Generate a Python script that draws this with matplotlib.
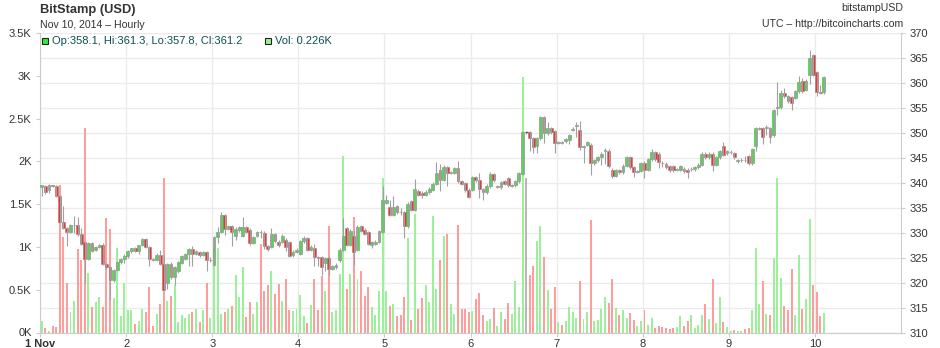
import matplotlib
matplotlib.use("Agg")
import matplotlib.pyplot as plt
from matplotlib.patches import Rectangle
import numpy as np

plt.rcParams['font.family'] = ['Liberation Sans', 'DejaVu Sans']

# hourly candles, 1 Nov 00:00 UTC onwards (24 per line = one day)
opens = [
    339.1, 339.4, 338.6, 339.5, 339.4, 337.4, 332.1, 330.9, 330.1, 331.5, 331.6, 329.8,
    328.1, 324.7, 328.0, 326.6, 327.1, 327.6, 323.7, 323.1, 320.5, 322.5, 324.1, 324.8,
    325.4, 326.4, 326.9, 326.4, 327.5, 328.7, 327.1, 324.7, 324.6, 325.6, 323.8, 320.0,
    323.8, 321.1, 322.3, 323.9, 324.7, 325.7, 326.7, 325.7, 326.2, 325.5, 326.2, 324.5,
    323.6, 329.1, 330.2, 333.6, 330.7, 331.3, 329.4, 330.6, 329.4, 331.1, 330.6, 327.9,
    329.4, 330.2, 330.0, 327.3, 327.1, 329.8, 328.2, 328.1, 328.6, 328.2, 325.5, 326.2,
    325.8, 328.3, 329.0, 326.6, 326.9, 325.1, 325.1, 323.9, 325.0, 322.8, 323.1, 324.5,
    326.6, 330.9, 327.6, 329.4, 326.5, 331.3, 330.6, 330.1, 327.6, 327.8, 328.1, 330.2,
    336.0, 335.1, 333.6, 335.3, 334.2, 334.1, 331.3, 336.3, 334.6, 338.4, 338.0, 337.6,
    338.1, 338.6, 339.8, 342.5, 340.6, 343.1, 342.0, 342.0, 342.9, 340.3, 339.9, 338.6,
    338.6, 341.1, 340.6, 338.7, 338.1, 339.3, 341.8, 339.2, 339.1, 340.3, 340.9, 339.4,
    339.5, 340.3, 341.8, 350.1, 350.1, 348.9, 347.3, 348.9, 353.1, 349.9, 350.9, 350.3,
    348.0, 348.1, 348.3, 348.6, 350.6, 351.3, 350.6, 347.2, 347.6, 347.6, 343.9, 344.5,
    345.1, 346.4, 346.4, 342.6, 341.4, 342.5, 342.1, 343.4, 345.1, 343.1, 342.2, 342.4,
    344.0, 342.6, 344.7, 346.1, 345.8, 344.0, 343.8, 343.3, 343.3, 342.6, 342.6, 342.8,
    342.6, 342.7, 342.7, 343.1, 343.6, 345.8, 345.1, 345.8, 343.6, 345.1, 347.3, 345.9,
    346.1, 345.9, 344.3, 344.5, 344.6, 345.3, 343.9, 347.3, 350.8, 350.9, 350.9, 350.9,
    349.5, 355.0, 355.1, 357.9, 357.3, 357.1, 357.0, 358.3, 360.3, 358.6, 361.6, 365.5,
    362.1, 358.1, 358.1,
]
highs = [
    339.6, 339.6, 339.7, 339.6, 339.6, 337.5, 335.4, 331.2, 331.7, 333.3, 333.2, 331.0,
    328.3, 328.2, 328.2, 327.3, 327.8, 328.0, 324.0, 323.4, 322.8, 324.3, 325.0, 325.8,
    326.6, 327.0, 327.1, 327.6, 328.9, 328.9, 327.3, 325.0, 325.9, 326.5, 325.5, 324.0,
    324.2, 323.4, 324.3, 325.5, 326.0, 327.0, 327.3, 326.5, 326.4, 326.4, 326.4, 325.2,
    329.3, 331.1, 334.2, 333.8, 331.5, 331.6, 331.2, 331.3, 333.1, 331.4, 330.9, 329.4,
    330.4, 330.6, 330.3, 327.6, 330.9, 330.0, 328.5, 329.7, 328.9, 328.4, 326.5, 326.9,
    328.6, 329.3, 329.2, 327.5, 327.8, 325.4, 325.4, 325.2, 325.4, 323.6, 323.9, 326.9,
    332.9, 331.2, 330.8, 330.5, 331.5, 331.6, 330.9, 330.4, 328.4, 328.5, 330.6, 339.3,
    337.6, 336.6, 337.3, 335.6, 335.0, 334.4, 336.1, 336.6, 340.7, 338.8, 338.3, 338.5,
    339.1, 340.2, 344.1, 343.8, 343.5, 343.4, 342.4, 343.2, 344.3, 340.6, 340.2, 338.9,
    341.4, 341.4, 341.9, 339.0, 339.7, 342.2, 342.0, 339.6, 340.4, 340.6, 341.2, 339.8,
    340.6, 342.2, 350.3, 350.4, 350.3, 349.2, 349.2, 353.3, 353.3, 352.1, 351.2, 350.6,
    348.4, 348.4, 349.0, 349.8, 351.1, 352.2, 352.3, 347.6, 348.4, 347.9, 344.8, 345.4,
    346.1, 346.9, 346.7, 342.9, 342.8, 342.8, 343.7, 345.4, 345.4, 343.4, 342.6, 344.2,
    344.3, 345.0, 346.7, 346.4, 346.1, 344.3, 344.1, 343.6, 343.6, 343.0, 343.6, 343.1,
    342.9, 343.1, 343.4, 343.9, 346.1, 346.1, 346.1, 346.1, 345.4, 346.6, 348.2, 346.6,
    346.5, 346.2, 344.8, 344.9, 345.4, 345.6, 347.0, 351.2, 351.2, 351.2, 351.6, 351.2,
    354.8, 360.1, 358.5, 358.9, 357.6, 357.4, 358.6, 361.3, 361.0, 360.8, 366.6, 365.7,
    362.4, 359.6, 361.3,
]
lows = [
    337.3, 337.7, 338.0, 339.2, 337.2, 332.0, 330.8, 327.3, 330.0, 329.9, 329.3, 327.5,
    319.9, 324.5, 326.1, 326.4, 326.9, 323.5, 322.8, 316.6, 320.1, 322.3, 323.8, 324.0,
    324.9, 326.0, 326.2, 325.8, 327.3, 326.9, 323.3, 324.3, 324.4, 323.6, 318.5, 318.8,
    320.8, 319.6, 322.0, 323.7, 324.5, 323.3, 323.4, 325.5, 325.2, 325.3, 322.3, 324.1,
    323.4, 328.0, 330.0, 329.5, 330.5, 327.4, 328.6, 330.2, 329.2, 329.9, 327.6, 327.7,
    329.1, 329.0, 326.8, 326.3, 326.9, 328.0, 327.2, 327.9, 326.4, 325.1, 325.2, 326.0,
    325.5, 328.0, 326.3, 326.3, 323.3, 323.3, 321.6, 322.4, 321.5, 322.5, 322.8, 324.2,
    326.3, 327.3, 327.4, 323.6, 326.3, 330.1, 329.5, 327.5, 327.0, 327.5, 327.9, 330.0,
    335.7, 333.3, 333.4, 333.8, 333.6, 329.0, 331.0, 334.3, 334.4, 337.3, 337.0, 337.3,
    337.8, 338.3, 339.6, 338.3, 340.3, 339.3, 341.7, 341.8, 339.9, 339.5, 338.2, 336.9,
    338.3, 340.1, 336.9, 336.5, 337.8, 339.0, 340.2, 338.9, 338.8, 339.5, 339.2, 339.1,
    339.2, 340.0, 341.5, 349.8, 346.3, 345.9, 346.0, 348.6, 348.0, 349.6, 349.8, 345.9,
    347.7, 347.7, 348.0, 347.8, 350.3, 349.2, 346.6, 344.0, 347.3, 341.6, 343.6, 344.2,
    343.6, 343.8, 343.0, 341.0, 341.1, 341.8, 341.8, 343.1, 342.8, 341.1, 341.9, 342.1,
    341.0, 342.3, 344.4, 344.4, 343.0, 343.2, 342.8, 342.2, 342.2, 342.3, 342.3, 342.0,
    341.0, 342.4, 342.4, 342.8, 343.3, 344.8, 344.8, 342.4, 343.3, 344.8, 345.3, 345.6,
    345.8, 344.8, 344.0, 344.2, 344.2, 343.6, 343.6, 346.3, 350.5, 347.7, 349.6, 348.0,
    349.2, 353.6, 354.8, 357.0, 356.0, 354.6, 356.7, 358.0, 358.0, 358.3, 359.8, 361.3,
    357.4, 357.8, 357.8,
]
closes = [
    339.5, 338.2, 339.5, 339.4, 337.4, 332.1, 330.9, 330.1, 331.5, 331.6, 329.8, 327.7,
    324.7, 328.0, 326.3, 327.1, 327.6, 323.7, 323.1, 320.5, 322.5, 324.1, 324.8, 325.4,
    326.4, 326.9, 326.4, 327.5, 328.7, 327.1, 324.7, 324.6, 325.6, 323.8, 318.6, 323.8,
    321.1, 323.1, 324.1, 325.3, 325.8, 326.7, 325.7, 326.3, 325.5, 326.2, 324.5, 324.6,
    329.1, 330.2, 333.6, 330.8, 331.3, 330.1, 330.7, 331.1, 331.1, 330.2, 327.9, 329.1,
    330.1, 330.1, 327.3, 326.7, 329.8, 328.3, 327.5, 329.4, 327.1, 325.4, 326.2, 326.6,
    328.3, 329.0, 326.6, 327.2, 325.1, 325.0, 323.1, 324.9, 322.8, 323.3, 323.6, 326.6,
    329.4, 327.6, 330.4, 326.1, 331.1, 330.4, 329.8, 327.8, 328.1, 328.2, 330.3, 336.5,
    336.6, 333.6, 335.1, 334.1, 334.1, 331.3, 335.8, 334.6, 338.7, 337.6, 337.6, 338.1,
    338.8, 339.8, 341.9, 340.6, 343.1, 341.9, 342.1, 342.9, 340.3, 339.8, 338.5, 337.2,
    341.1, 340.5, 338.7, 338.1, 339.4, 341.8, 340.5, 339.3, 340.1, 339.8, 339.5, 339.5,
    340.3, 341.9, 350.1, 350.1, 348.9, 347.2, 348.9, 353.1, 349.9, 350.9, 350.1, 347.9,
    348.1, 348.0, 348.7, 349.5, 350.8, 351.5, 347.1, 347.3, 348.1, 343.9, 344.5, 345.1,
    345.8, 346.5, 343.3, 341.3, 342.5, 342.1, 343.4, 345.1, 343.1, 342.1, 342.3, 343.9,
    342.6, 344.7, 346.1, 344.7, 344.1, 343.9, 343.1, 342.5, 342.5, 342.7, 343.3, 342.3,
    342.1, 342.8, 343.1, 343.6, 345.8, 345.1, 345.8, 343.6, 345.1, 346.3, 345.6, 346.3,
    346.2, 345.1, 344.5, 344.6, 344.5, 343.9, 346.7, 350.9, 350.9, 349.1, 351.2, 349.1,
    354.5, 355.1, 357.9, 357.3, 356.3, 355.9, 358.3, 360.1, 358.3, 360.3, 364.9, 361.6,
    358.1, 358.0, 361.2,
]
# volume in thousands of BTC
volumes = [
    0.13, 0.05, 0.02, 0.08, 0.06, 1.72, 1.12, 0.58, 0.24, 0.37, 0.97, 0.85,
    2.39, 0.70, 0.30, 0.36, 0.41, 0.30, 1.34, 1.21, 0.40, 0.99, 0.19, 0.58,
    0.26, 0.26, 0.10, 0.13, 0.28, 0.24, 0.53, 0.08, 0.22, 0.33, 1.81, 0.37,
    0.43, 0.55, 0.12, 0.21, 0.17, 0.22, 0.24, 0.27, 0.12, 0.26, 0.58, 0.17,
    0.98, 0.99, 0.22, 0.24, 0.27, 0.31, 0.67, 0.41, 0.76, 0.18, 0.36, 0.22,
    0.36, 1.04, 0.48, 0.55, 0.72, 0.45, 0.57, 0.37, 0.63, 0.26, 0.25, 0.27,
    0.44, 0.19, 0.11, 0.32, 0.62, 0.26, 0.66, 0.48, 1.24, 0.24, 0.26, 0.68,
    2.06, 0.51, 0.68, 1.35, 0.62, 0.72, 0.43, 0.53, 0.30, 0.21, 0.49, 1.81,
    0.48, 0.31, 0.33, 0.19, 0.20, 0.42, 1.10, 0.15, 1.38, 0.27, 0.40, 0.56,
    0.36, 1.36, 0.51, 0.85, 1.13, 1.15, 0.33, 0.22, 1.26, 0.27, 0.28, 0.24,
    0.25, 0.39, 0.46, 0.20, 0.13, 0.16, 0.29, 0.08, 0.24, 0.16, 0.35, 0.22,
    0.60, 0.30, 2.99, 1.81, 0.67, 0.78, 1.07, 1.24, 0.88, 0.50, 0.27, 0.53,
    0.12, 0.09, 0.13, 0.30, 0.24, 0.17, 0.60, 0.16, 0.24, 1.31, 0.13, 0.15,
    0.28, 0.41, 0.34, 0.62, 0.29, 0.21, 0.26, 0.17, 0.23, 0.15, 0.08, 0.13,
    0.26, 0.09, 0.17, 0.05, 0.08, 0.07, 0.05, 0.04, 0.05, 0.07, 0.19, 0.08,
    0.14, 0.21, 0.05, 0.09, 0.20, 0.33, 0.16, 0.63, 0.11, 0.41, 0.12, 0.07,
    0.02, 0.03, 0.02, 0.02, 0.04, 0.05, 0.26, 0.99, 0.33, 0.60, 0.22, 0.20,
    0.87, 1.81, 0.64, 0.31, 0.26, 0.74, 0.21, 0.90, 0.27, 0.39, 1.33, 0.56,
    0.47, 0.19, 0.226,
]
day_labels = ["1 Nov", "2", "3", "4", "5", "6", "7", "8", "9", "10"]
price_ticks = [310, 315, 320, 325, 330, 335, 340, 345, 350, 355, 360, 365, 370]
vol_ticks = [0, 0.5, 1, 1.5, 2, 2.5, 3, 3.5]
vol_labels = ["0K", "0.5K", "1K", "1.5K", "2K", "2.5K", "3K", "3.5K"]

o = np.array(opens)
h = np.array(highs)
l = np.array(lows)
c = np.array(closes)
v = np.array(volumes)
x = np.arange(len(o))
up = c > o
down = c < o
flat = c == o

TXT = '#333333'
GRID = '#ebebeb'
AXC = '#cccccc'

fig = plt.figure(figsize=(9.4, 3.48), dpi=100)
ax = fig.add_axes([40 / 940, 15.5 / 348, 861 / 940, 299.5 / 348])
axv = ax.twinx()
axc = ax.twinx()

# price scale (right) carries the grid
ax.set_xlim(-0.5, 239.5)
ax.set_ylim(310, 370)
ax.yaxis.tick_right()
ax.set_yticks(price_ticks)
ax.set_xticks([24 * k - 0.5 for k in range(len(day_labels))])
ax.set_xticklabels(day_labels)
ax.get_xticklabels()[0].set_fontweight('bold')
ax.grid(True, color=GRID, lw=1)
ax.set_axisbelow(True)
ax.tick_params(axis='both', colors=AXC, labelcolor=TXT, labelsize=8, length=3)
ax.tick_params(axis='x', pad=1.5)
ax.tick_params(axis='y', pad=3)
for side in ['left', 'right', 'bottom']:
    ax.spines[side].set_color(AXC)
ax.spines['top'].set_visible(False)

# volume (left)
axv.set_ylim(0, 3.5)
axv.yaxis.tick_left()
axv.set_yticks(vol_ticks)
axv.set_yticklabels(vol_labels)
axv.tick_params(axis='y', colors=AXC, labelcolor=TXT, labelsize=8, length=3, pad=3)
for s in axv.spines.values():
    s.set_visible(False)
axv.bar(x[up], v[up], width=0.55, color='#9cf09a', lw=0)
axv.bar(x[down], v[down], width=0.55, color='#ff9c9c', lw=0)
axv.bar(x[flat], v[flat], width=0.55, color='#b8b8b8', lw=0)

# candles
axc.set_ylim(310, 370)
axc.set_yticks([])
for s in axc.spines.values():
    s.set_visible(False)
axc.vlines(x, l, h, color='#a0a0a0', lw=0.8)
axc.bar(x[up], (c - o)[up], bottom=o[up], width=0.8,
        color='#2ef02e', edgecolor='#8c8c8c', lw=0.45)
axc.bar(x[down], (o - c)[down], bottom=c[down], width=0.8,
        color='#ff2a2a', edgecolor='#8c8c8c', lw=0.45)
axc.hlines(c[flat], x[flat] - 0.4, x[flat] + 0.4, color='#555555', lw=0.9)

# header texts
fig.text(40 / 940, 1 - 10 / 348, "BitStamp (USD)", fontsize=9.3, fontweight='bold',
         color=TXT, va='center')
fig.text(40 / 940, 1 - 25 / 348, "Nov 10, 2014 \u2013 Hourly", fontsize=7.6,
         color=TXT, va='center')
fig.text(903 / 940, 1 - 8 / 348, "bitstampUSD", fontsize=7.6, color=TXT,
         va='center', ha='right')
fig.text(903 / 940, 1 - 24 / 348, "UTC \u2013 http://bitcoincharts.com", fontsize=7.6,
         color=TXT, va='center', ha='right')

# legend row with last values
LEG = '#0d4f55'
fig.add_artist(Rectangle((42 / 940, 1 - 44 / 348), 6 / 940, 6 / 348, transform=fig.transFigure,
                         facecolor='#33ee33', edgecolor='#222222', lw=0.8))
fig.text(52 / 940, 1 - 41 / 348,
         f"Op:{opens[-1]}, Hi:{highs[-1]}, Lo:{lows[-1]}, Cl:{closes[-1]}",
         fontsize=8, color=LEG, va='center')
fig.add_artist(Rectangle((265 / 940, 1 - 44 / 348), 6 / 940, 6 / 348, transform=fig.transFigure,
                         facecolor='#9cf09a', edgecolor='#222222', lw=0.8))
fig.text(275 / 940, 1 - 41 / 348, f"Vol: {volumes[-1]}K", fontsize=8, color=LEG, va='center')

fig.savefig("out.png", dpi=100)
